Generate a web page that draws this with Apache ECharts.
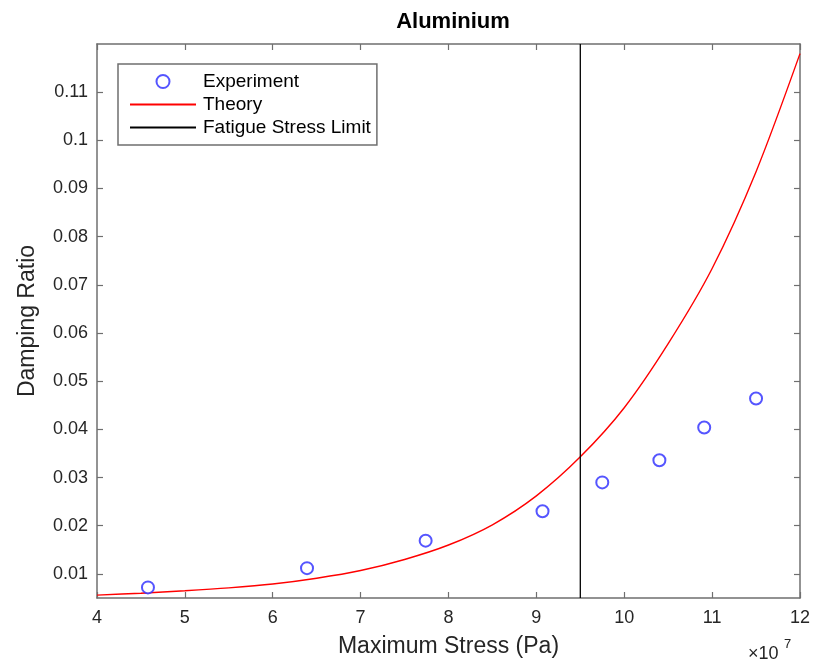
<!DOCTYPE html>
<html>
<head>
<meta charset="utf-8">
<script src="https://cdn.jsdelivr.net/npm/echarts@6/dist/echarts.min.js"></script>
<style>
html,body{margin:0;padding:0;background:#fff;}
#chart{width:813px;height:663px;}
</style>
</head>
<body>
<div id="chart"></div>
<script>
// Data (x in units of 1e7 Pa)
const expStress = [4.58, 6.39, 7.74, 9.07, 9.75, 10.40, 10.91, 11.50];
const expDamping = [0.0072, 0.0112, 0.0169, 0.0230, 0.0290, 0.0336, 0.0404, 0.0464];
const theoryStress = [4.0, 4.5, 5.0, 5.5, 6.0, 6.5, 7.0, 7.5, 8.0, 8.5, 9.0, 9.5, 10.0, 10.5, 11.0, 11.5, 12.0];
const theoryDamping = [0.0056, 0.0060, 0.0065, 0.0071, 0.0079, 0.0091, 0.0107, 0.0130, 0.0160, 0.0202, 0.0262, 0.0343, 0.0445, 0.0578, 0.0734, 0.0935, 0.1180];
const fatigueLimit = 9.5;
const xTicks = [4, 5, 6, 7, 8, 9, 10, 11, 12];
const yTicks = [0.01, 0.02, 0.03, 0.04, 0.05, 0.06, 0.07, 0.08, 0.09, 0.1, 0.11];
const xRange = [4, 12];
const yRange = [0.005, 0.12];

const FONT = '"Liberation Sans", Arial, Helvetica, sans-serif';
const TXT = '#262626';
const AX = '#6f6f6f';

const chart = echarts.init(document.getElementById('chart'), null, {renderer: 'canvas'});

const baseAxisLine = {show: true, onZero: false, lineStyle: {color: AX, width: 1.5}};
const tickStyle = {show: true, inside: true, length: 6, lineStyle: {color: AX, width: 1.2}};

const option = {
  backgroundColor: '#ffffff',
  animation: false,
  textStyle: {fontFamily: FONT},
  title: {
    text: 'Aluminium',
    left: 448, top: 6, textAlign: 'center',
    textStyle: {fontSize: 22, fontWeight: 'bold', color: '#000', fontFamily: FONT}
  },
  grid: {left: 97, right: 13, top: 44, bottom: 63, containLabel: false},
  legend: {
    orient: 'vertical',
    left: 118, top: 64,
    padding: [8, 6, 8, 11],
    itemGap: 4,
    itemWidth: 66, itemHeight: 13,
    backgroundColor: '#fff',
    borderColor: AX, borderWidth: 1.5, borderRadius: 0,
    textStyle: {fontSize: 19, color: '#000', fontFamily: FONT, padding: [0, 0, 0, 2]},
    data: [
      {name: 'Experiment', icon: 'emptyCircle'},
      {name: 'Theory', itemStyle: {opacity: 0}},
      {name: 'Fatigue Stress Limit', itemStyle: {opacity: 0}}
    ]
  },
  xAxis: [{
    type: 'value', min: xRange[0], max: xRange[1], interval: 1,
    position: 'bottom',
    axisLine: baseAxisLine, axisTick: tickStyle, splitLine: {show: false},
    axisLabel: {fontSize: 18, color: TXT, margin: 11, fontFamily: FONT,
      customValues: xTicks},
    name: 'Maximum Stress (Pa)', nameLocation: 'middle', nameGap: 37,
    nameTextStyle: {fontSize: 23, color: TXT, fontFamily: FONT}
  }, {
    type: 'value', min: xRange[0], max: xRange[1], interval: 1,
    position: 'top',
    axisLine: baseAxisLine, axisTick: tickStyle, splitLine: {show: false},
    axisLabel: {show: false}
  }],
  yAxis: [{
    type: 'value', min: yRange[0], max: yRange[1],
    position: 'left',
    axisLine: baseAxisLine,
    axisTick: Object.assign({}, tickStyle, {customValues: yTicks}),
    splitLine: {show: false},
    axisLabel: {fontSize: 18, color: TXT, margin: 9, fontFamily: FONT,
      customValues: yTicks, formatter: v => String(+v.toFixed(2))},
    name: 'Damping Ratio', nameLocation: 'middle', nameGap: 58,
    nameTextStyle: {fontSize: 23, color: TXT, fontFamily: FONT}
  }, {
    type: 'value', min: yRange[0], max: yRange[1],
    position: 'right',
    axisLine: baseAxisLine,
    axisTick: Object.assign({}, tickStyle, {customValues: yTicks}),
    splitLine: {show: false},
    axisLabel: {show: false}
  }],
  graphic: [
    {type: 'text', left: 748, top: 645, style: {text: '\u00d710', fontSize: 18, fill: TXT, fontFamily: FONT}},
    {type: 'text', left: 784, top: 638, style: {text: '7', fontSize: 13, fill: TXT, fontFamily: FONT}}
  ],
  series: [
    {
      name: 'Experiment', type: 'scatter',
      symbol: 'emptyCircle', symbolSize: 12,
      itemStyle: {color: '#2a2aff', borderColor: '#2a2aff', borderWidth: 1.5},
      data: expStress.map((x, i) => [x, expDamping[i]]),
      z: 3
    },
    {
      name: 'Theory', type: 'line',
      showSymbol: false, symbol: 'none', smooth: 0.3,
      lineStyle: {color: '#ff0000', width: 1.4},
      itemStyle: {color: '#ff0000'},
      data: theoryStress.map((x, i) => [x, theoryDamping[i]]),
      z: 2
    },
    {
      name: 'Fatigue Stress Limit', type: 'line',
      showSymbol: false, symbol: 'none',
      lineStyle: {color: '#000000', width: 1.3},
      itemStyle: {color: '#000000'},
      data: [[fatigueLimit, yRange[0]], [fatigueLimit, yRange[1]]],
      z: 2
    }
  ]
};
chart.setOption(option);
</script>
</body>
</html>
